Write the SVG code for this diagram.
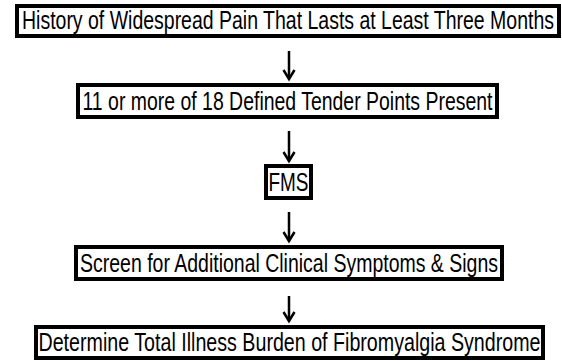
<svg xmlns="http://www.w3.org/2000/svg" width="562" height="361" viewBox="0 0 562 361">
<style>
.box{fill:#fff;stroke:#000;stroke-width:4}
.t{font-family:"Liberation Sans",Arial,sans-serif;font-size:25px;fill:#000;text-anchor:middle}
.sh{stroke:#000;stroke-width:2.5;fill:none}
.hd{stroke:#000;stroke-width:2.5;fill:none;stroke-linejoin:miter}
</style>
<rect width="562" height="361" fill="#fff"/>
<g id="connectors">
<g><line class="sh" x1="289" y1="51" x2="289" y2="79"/><polyline class="hd" points="283.5,70 289,79 294.5,70"/></g>
<g><line class="sh" x1="289" y1="131" x2="289" y2="161"/><polyline class="hd" points="283.5,152 289,161 294.5,152"/></g>
<g><line class="sh" x1="289" y1="212" x2="289" y2="241"/><polyline class="hd" points="283.5,232 289,241 294.5,232"/></g>
<g><line class="sh" x1="289" y1="296" x2="289" y2="321"/><polyline class="hd" points="283.5,312 289,321 294.5,312"/></g>
</g>
<g id="n1"><rect class="box" x="17" y="6" width="542" height="30"/><text class="t" x="288" y="29" textLength="532" lengthAdjust="spacingAndGlyphs">History of Widespread Pain That Lasts at Least Three Months</text></g>
<g id="n2"><rect class="box" x="78" y="85" width="419" height="32"/><text class="t" x="287.5" y="110" textLength="410" lengthAdjust="spacingAndGlyphs">11 or more of 18 Defined Tender Points Present</text></g>
<g id="n3"><rect class="box" x="266" y="166" width="45" height="32"/><text class="t" x="288.5" y="191" textLength="40" lengthAdjust="spacingAndGlyphs">FMS</text></g>
<g id="n4"><rect class="box" x="76" y="247" width="426" height="32"/><text class="t" x="289" y="272" textLength="418" lengthAdjust="spacingAndGlyphs">Screen for Additional Clinical Symptoms &amp; Signs</text></g>
<g id="n5"><rect class="box" x="36" y="327" width="507" height="31"/><text class="t" x="289.5" y="351" textLength="502" lengthAdjust="spacingAndGlyphs">Determine Total Illness Burden of Fibromyalgia Syndrome</text></g>
</svg>
